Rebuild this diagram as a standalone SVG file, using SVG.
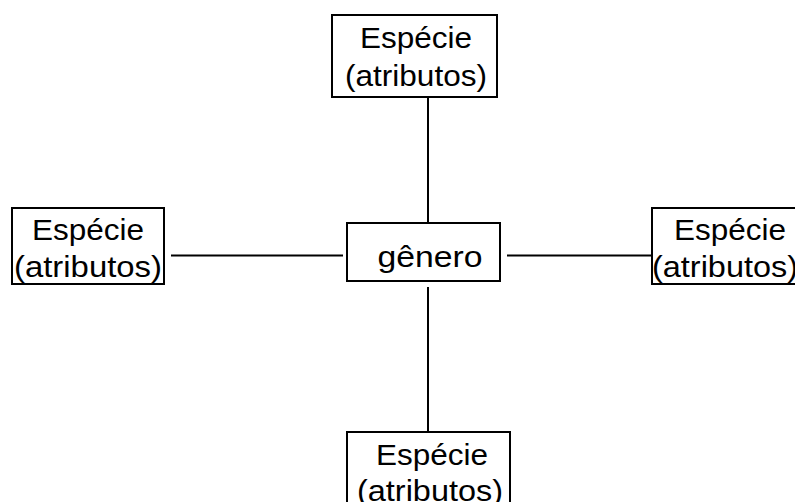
<svg xmlns="http://www.w3.org/2000/svg" width="795" height="502" viewBox="0 0 795 502">
<style>
.box{fill:#fff;stroke:#000;stroke-width:2}
.ln{stroke:#000;stroke-width:2;fill:none}
text{font-family:"Liberation Sans",Arial,sans-serif;font-size:29px;fill:#000;text-anchor:middle}
.s{}
</style>
<rect width="795" height="502" fill="#fff"/>
<g id="connectors">
<line class="ln" x1="428" y1="97" x2="428" y2="224"/>
<line class="ln" x1="171" y1="255.5" x2="343" y2="255.5"/>
<line class="ln" x1="507" y1="255.5" x2="652" y2="255.5"/>
<line class="ln" x1="428" y1="287" x2="428" y2="432"/>
</g>
<g id="top">
<rect class="box" x="332" y="15" width="165" height="82"/>
<text x="416" y="48" textLength="112" lengthAdjust="spacingAndGlyphs">Espécie</text>
<text x="416" y="86" textLength="142" lengthAdjust="spacingAndGlyphs">(atributos)</text>
</g>
<g id="left">
<rect class="box" x="12" y="208" width="152" height="76"/>
<text x="88" y="240" textLength="112" lengthAdjust="spacingAndGlyphs">Espécie</text>
<text x="88" y="277" textLength="148" lengthAdjust="spacingAndGlyphs">(atributos)</text>
</g>
<g id="genero">
<rect class="box" x="347" y="223" width="153" height="58"/>
<text x="430" y="267" textLength="105" lengthAdjust="spacingAndGlyphs">gênero</text>
</g>
<g id="right">
<rect class="box" x="652" y="208" width="160" height="76"/>
<text x="730" y="240" textLength="112" lengthAdjust="spacingAndGlyphs">Espécie</text>
<text x="725" y="277" textLength="146" lengthAdjust="spacingAndGlyphs">(atributos)</text>
</g>
<g id="bottom">
<rect class="box" x="347" y="432" width="163" height="82"/>
<text x="432" y="465" textLength="112" lengthAdjust="spacingAndGlyphs">Espécie</text>
<text x="430" y="501" textLength="146" lengthAdjust="spacingAndGlyphs">(atributos)</text>
</g>
</svg>
